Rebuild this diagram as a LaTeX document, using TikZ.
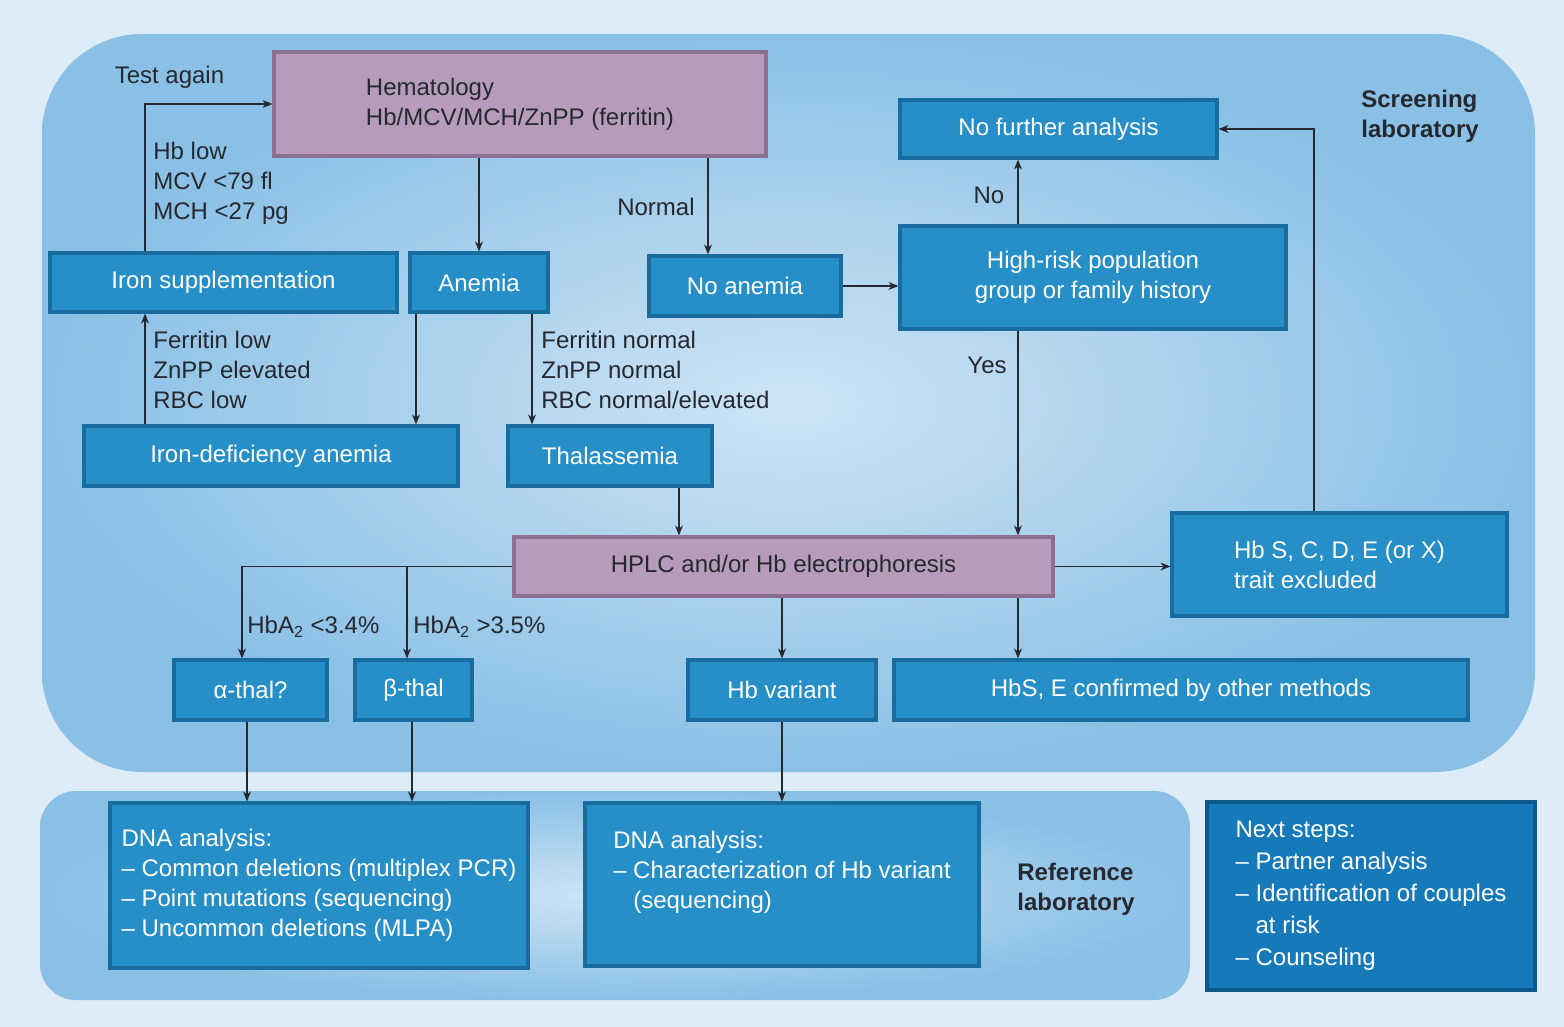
\documentclass[tikz,border=0pt]{standalone}
\usepackage{fontspec}
\setmainfont{Liberation Sans}
\usepackage{tikz}
\usetikzlibrary{arrows.meta, positioning, calc}
\usepackage{xcolor}
\definecolor{pagebg}{RGB}{222,236,247}
\definecolor{panelout}{RGB}{138,192,230}
\definecolor{panelin}{RGB}{205,228,245}
\definecolor{boxblue}{RGB}{38,143,200}
\definecolor{boxedge}{RGB}{24,108,158}
\definecolor{deepblue}{RGB}{22,122,186}
\definecolor{deepedge}{RGB}{14,88,140}
\definecolor{mauve}{RGB}{182,156,186}
\definecolor{mauveedge}{RGB}{140,112,146}
\definecolor{ink}{RGB}{38,40,48}

\begin{document}
\begin{tikzpicture}[x=0.5pt, y=-0.5pt,
  font=\fontsize{12pt}{15pt}\selectfont,
  box/.style={fill=boxblue, draw=boxedge, line width=1.6pt, text=white, inner sep=0pt},
  testbox/.style={fill=mauve, draw=mauveedge, line width=1.6pt, text=ink, inner sep=0pt},
  lbl/.style={text=ink, inner sep=0pt, align=left},
  lab/.style={text=ink, font=\fontsize{12pt}{15pt}\selectfont\bfseries, align=left, inner sep=0pt},
  arr/.style={-{Stealth[length=5pt, width=4pt]}, line width=0.65pt, ink}
]
  \useasboundingbox (0,0) rectangle (1564,1027);
  % background and the two laboratories
  \fill[pagebg] (0,0) rectangle (1564,1027);
  \shade[inner color=panelin, outer color=panelout, rounded corners=50pt] (42,34) rectangle (1535,772);
  \shade[inner color=panelin, outer color=panelout, rounded corners=18pt] (40,791) rectangle (1190,1000);
  \node[lab] (screenlab) at (1420,116.5) {Screening\\laboratory};
  \node[lab] (reflab) at (1076,889) {Reference\\laboratory};

  % first tests
  \node[testbox, minimum width=246pt, minimum height=52pt, align=left] (hema) at (520,104)
    {Hematology\\Hb/MCV/MCH/ZnPP (ferritin)};
  \node[box, minimum width=173.5pt, minimum height=29.5pt] (ironsup) at (223.5,282.5) {Iron supplementation};
  \node[box, minimum width=69pt, minimum height=29.5pt] (anemia) at (479,282.5) {Anemia};
  \node[box, minimum width=96pt, minimum height=30pt] (noanemia) at (745,286) {No anemia};
  \node[box, minimum width=158.5pt, minimum height=29pt] (nofurther) at (1058.5,129) {No further analysis};
  \node[box, minimum width=193pt, minimum height=51.5pt, align=center] (highrisk) at (1093,277.5)
    {High-risk population\\group or family history};
  \node[box, minimum width=187pt, minimum height=30pt] (irondef) at (271,456) {Iron-deficiency anemia};
  \node[box, minimum width=102pt, minimum height=30pt] (thal) at (610,456) {Thalassemia};

  % hemoglobin tests
  \node[testbox, minimum width=269.5pt, minimum height=29.5pt] (hplc) at (783.5,566.5) {HPLC and/or Hb electrophoresis};
  \node[box, minimum width=167.5pt, minimum height=51.5pt, align=left] (excluded) at (1339.5,564.5)
    {Hb S, C, D, E (or X)\\trait excluded};
  \node[box, minimum width=76.5pt, minimum height=30pt] (alpha) at (250.5,690) {α-thal?};
  \node[box, minimum width=58.5pt, minimum height=30pt] (beta) at (413.5,690) {β-thal};
  \node[box, minimum width=94pt, minimum height=30pt] (hbvar) at (782,690) {Hb variant};
  \node[box, minimum width=287pt, minimum height=30pt] (hbse) at (1181,690) {HbS, E confirmed by other methods};

  % DNA work and next steps
  \node[box, minimum width=209pt, minimum height=82.5pt, align=left] (dnathal) at (319,885.5)
    {DNA analysis:\\-- Common deletions (multiplex PCR)\\-- Point mutations (sequencing)\\-- Uncommon deletions (MLPA)};
  \node[box, minimum width=197pt, minimum height=81.5pt, align=left] (dnavar) at (782,884.5)
    {DNA analysis:\\-- Characterization of Hb variant\\\phantom{--~}(sequencing)\\~};
  \node[box, fill=deepblue, draw=deepedge, minimum width=164pt, minimum height=94pt, align=left,
    font=\fontsize{12pt}{16pt}\selectfont] (nextsteps) at (1371,896)
    {Next steps:\\-- Partner analysis\\-- Identification of couples\\\phantom{--~}at risk\\-- Counseling};

  % conditions
  \node[lbl] (testagain) at (169.5,77) {Test again};
  \node[lbl, anchor=west] (lowvals) at (153,183) {Hb low\\MCV <79 fl\\MCH <27 pg};
  \node[lbl, anchor=east] (normal) at (695,207) {Normal};
  \node[lbl] (nolbl) at (989,195) {No};
  \node[lbl] (yeslbl) at (987,365) {Yes};
  \node[lbl, anchor=west] (ironvals) at (153,370) {Ferritin low\\ZnPP elevated\\RBC low};
  \node[lbl, anchor=west] (thalvals) at (541,370) {Ferritin normal\\ZnPP normal\\RBC normal/elevated};
  \node[lbl, anchor=west] (lowa2) at (247,627) {HbA\textsubscript{2} <3.4\%};
  \node[lbl, anchor=west] (higha2) at (413,627) {HbA\textsubscript{2} >3.5\%};

  % arrows
  \draw[arr] (ironsup.north -| 145,0) |- (hema.west);
  \draw[arr] (hema.south -| anemia.north) -- (anemia.north);
  \draw[arr] (hema.south -| 708,0) -- (noanemia.north -| 708,0);
  \draw[arr] (noanemia.east) -- (noanemia.east -| highrisk.west);
  \draw[arr] (highrisk.north -| 1018,0) -- (nofurther.south -| 1018,0);
  \draw[arr] (excluded.north -| 1314,0) |- (nofurther.east);
  \draw[arr] (anemia.south -| 416,0) -- (irondef.north -| 416,0);
  \draw[arr] (irondef.north -| 145,0) -- (ironsup.south -| 145,0);
  \draw[arr] (anemia.south -| 532,0) -- (thal.north -| 532,0);
  \draw[arr] (thal.south -| 679,0) -- (hplc.north -| 679,0);
  \draw[arr] (highrisk.south -| 1018,0) -- (hplc.north -| 1018,0);
  \draw[arr] (hplc.east) -- (hplc.east -| excluded.west);
  \draw[arr] (hplc.west) -| (alpha.north -| 242,0);
  \draw[arr] (hplc.west -| 407,0) -- (beta.north -| 407,0);
  \draw[arr] (hplc.south -| hbvar.north) -- (hbvar.north);
  \draw[arr] (hplc.south -| 1018,0) -- (hbse.north -| 1018,0);
  \draw[arr] (alpha.south -| 247,0) -- (dnathal.north -| 247,0);
  \draw[arr] (beta.south -| 412,0) -- (dnathal.north -| 412,0);
  \draw[arr] (hbvar.south) -- (dnavar.north -| hbvar.south);
\end{tikzpicture}
\end{document}
